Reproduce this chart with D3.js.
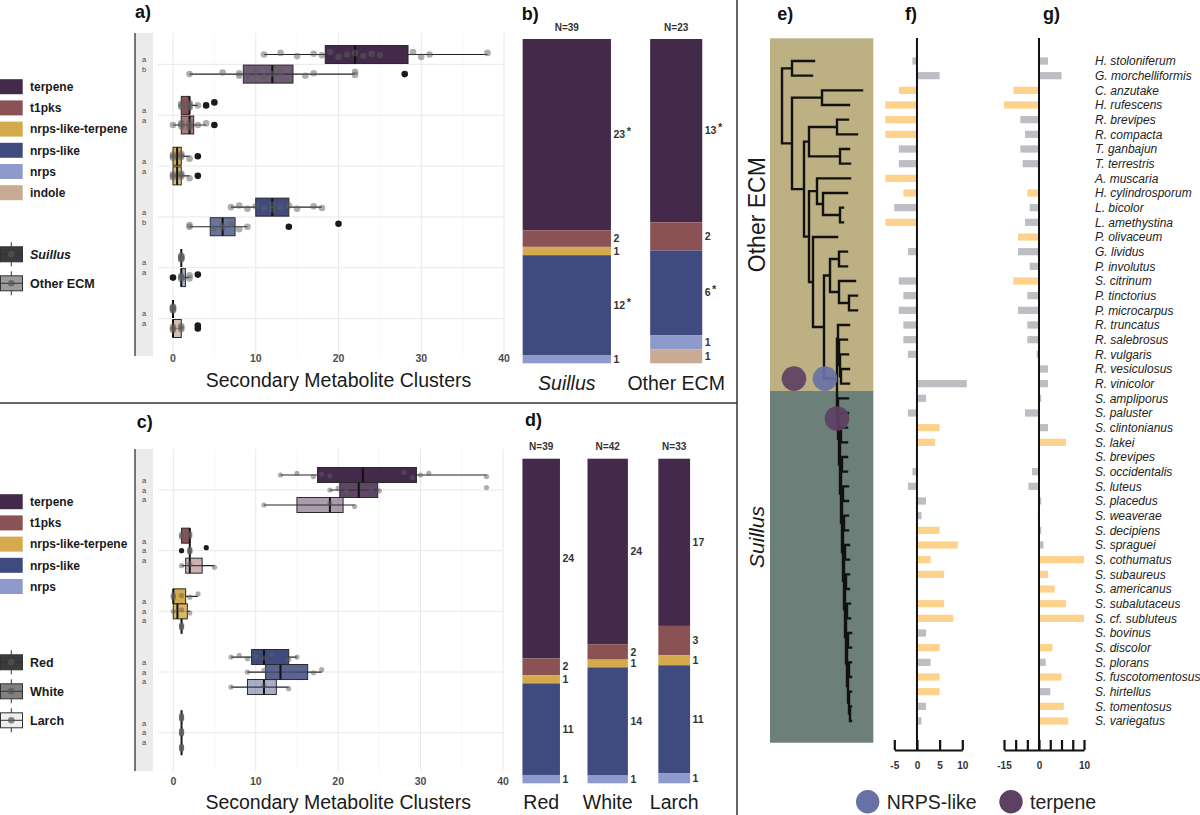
<!DOCTYPE html>
<html>
<head>
<meta charset="utf-8">
<script src="https://cdn.jsdelivr.net/npm/d3@7"></script>
<style>
  body { margin: 0; background: #fff; }
  svg { display: block; font-family: "Liberation Sans", Arial, sans-serif; }
</style>
</head>
<body>
<svg id="fig" width="1200" height="815"></svg>
<script>
// ---------- cluster types ----------
const clusterTypes = ['terpene', 't1pks', 'nrps-like-terpene', 'nrps-like', 'nrps', 'indole'];
const clusterColors = ['#43294a', '#8b5256', '#d4aa4d', '#3f4b7e', '#8e9acb', '#c9aa95'];
const xTicks = [0, 10, 20, 30, 40];

// ---------- panel a: box stats [lo, q1, median, q3, hi] per type ----------
const boxSuillus = [[11, 18.4, 22, 28.4, 38], [1, 1, 2, 2, 3], [0, 0, 0.5, 1, 2], [7, 10, 12, 14, 18], [1, 1, 1, 1, 1], [0, 0, 0, 0, 0]];
const ptsSuillus = [[11, 13, 15, 17, 18, 19, 20, 21, 22, 23, 24, 25, 29, 30, 31, 38], [1, 1, 1, 2, 2, 2, 2, 3], [0, 0, 0, 1, 1, 1, 2], [7, 8, 9, 10, 11, 12, 12, 13, 14, 15, 17, 18], [1, 1, 1, 1, 1, 1], [0, 0, 0, 0, 0, 0]];
const outSuillus = [[], [4, 5], [3], [], [], []];
const boxOtherECM = [[2, 8.5, 12, 14.5, 22], [0, 1, 2, 2.5, 4], [0, 0, 0.5, 1, 2], [2, 4.5, 6, 7.5, 9], [1, 1, 1, 1.5, 2], [0, 0, 0, 1, 1]];
const ptsOtherECM = [[2, 6, 8, 8, 9, 10, 11, 12, 13, 16, 17, 22, 22], [0, 1, 1, 1, 2, 2, 2, 3, 4], [0, 0, 0, 1, 1, 1, 2], [2, 2, 5, 6, 6, 7, 8, 9], [1, 1, 1, 1, 2, 2], [0, 0, 0, 1, 1, 1]];
const outOtherECM = [[28], [5], [3], [14, 20], [0, 3], [3, 3]];
const lettersA = [['a', 'b'], ['a', 'a'], ['a', 'a'], ['a', 'b'], ['a', 'a'], ['a', 'a']];

// ---------- panel c ----------
const typesC = clusterTypes.slice(0, 5);
const boxRed = [[13, 17.5, 23, 29.5, 38], [1, 1, 2, 2, 2], [0, 0, 0, 1.5, 3], [7, 9.5, 11, 14, 15], [1, 1, 1, 1, 1]];
const ptsRed = [[13, 15, 17, 18, 19, 28, 29, 30, 31, 38], [1, 1, 1, 2, 2, 2], [0, 0, 0, 1, 2, 3], [7, 8, 9, 10, 11, 12, 14, 15], [1, 1, 1, 1, 1, 1]];
const outRed = [[], [], [], [], []];
const boxWhite = [[19, 20.2, 22.5, 24.8, 25], [2, 2, 2, 2, 2], [0, 0, 0.5, 1.7, 2], [9, 11.2, 13, 16.3, 18], [1, 1, 1, 1, 1]];
const ptsWhite = [[19, 20, 21, 24, 25, 38], [2, 2, 2, 2, 2], [0, 1, 2], [9, 11, 12, 14, 17, 18], [1, 1, 1, 1, 1, 1]];
const outWhite = [[], [1, 4], [], [], []];
const boxLarch = [[11, 15, 19, 20.6, 22], [1, 1.5, 2, 3.5, 5], [1, 1, 1, 1, 1], [7, 9, 11, 12.5, 14], [1, 1, 1, 1, 1]];
const ptsLarch = [[11, 19, 22], [1, 2, 5], [1, 1, 1, 1, 1], [7, 11, 14], [1, 1, 1, 1, 1]];
const outLarch = [[], [], [], [], []];
const lettersC = [['a', 'a', 'a'], ['a', 'a', 'a'], ['a', 'a', 'a'], ['a', 'a', 'a'], ['a', 'a', 'a']];

// ---------- panels b and d: cluster counts per group ----------
const groupsB = ['Suillus', 'Other ECM'];
const countsSuillus = [23, 2, 1, 12, 1, 0];
const countsOtherECMb = [13, 2, 0, 6, 1, 1];
const starsB = [['terpene', 'nrps-like'], ['terpene', 'nrps-like']];
const groupsD = ['Red', 'White', 'Larch'];
const countsRed = [24, 2, 1, 11, 1];
const countsWhite = [24, 2, 1, 14, 1];
const countsLarch = [17, 3, 1, 11, 1];

// ---------- panels e, f, g ----------
const species = ['H. stoloniferum', 'G. morchelliformis', 'C. anzutake', 'H. rufescens', 'R. brevipes', 'R. compacta',
  'T. ganbajun', 'T. terrestris', 'A. muscaria', 'H. cylindrosporum', 'L. bicolor', 'L. amethystina', 'P. olivaceum',
  'G. lividus', 'P. involutus', 'S. citrinum', 'P. tinctorius', 'P. microcarpus', 'R. truncatus', 'R. salebrosus',
  'R. vulgaris', 'R. vesiculosus', 'R. vinicolor', 'S. ampliporus', 'S. paluster', 'S. clintonianus', 'S. lakei',
  'S. brevipes', 'S. occidentalis', 'S. luteus', 'S. placedus', 'S. weaverae', 'S. decipiens', 'S. spraguei',
  'S. cothumatus', 'S. subaureus', 'S. americanus', 'S. subalutaceus', 'S. cf. subluteus', 'S. bovinus', 'S. discolor',
  'S. plorans', 'S. fuscotomentosus', 'S. hirtellus', 'S. tomentosus', 'S. variegatus'];
const nrpsDiff = [-1, 5, -4, -7, -7, -7, -4, -4, -7, -3, -5, -7, 0, -2, 0, -4, -3, -4, -3, -3, -2, 0,
  11, 2, -2, 5, 4, 0, -1, -2, 2, 1, 5, 9, 3, 6, 0, 6, 8, 2, 5, 3, 5, 5, 2, 1];
const nrpsSig = [0, 0, 1, 1, 1, 1, 0, 0, 1, 1, 0, 1, 0, 0, 0, 0, 0, 0, 0, 0, 0, 0,
  0, 0, 0, 1, 1, 0, 0, 0, 0, 0, 1, 1, 1, 1, 0, 1, 1, 0, 1, 0, 1, 1, 0, 0];
const terpDiff = [2, 5, -11, -15, -8, -6, -8, -7, 0, -5, -4, -6, -9, -9, -4, -11, -5, -9, -5, -5, -1, 2,
  2, 0.5, -6, 2, 6, -0.5, -3, -4.5, 0.5, -0.5, 0.5, 1, 10, 2, 3.5, 6, 10, 0, 3, 1.5, 5, 2.5, 5.5, 6.5];
const terpSig = [0, 0, 1, 1, 0, 0, 0, 0, 0, 1, 0, 0, 1, 0, 0, 1, 0, 0, 0, 0, 0, 0,
  0, 0, 0, 0, 1, 0, 0, 0, 0, 0, 0, 0, 1, 1, 1, 1, 1, 0, 1, 0, 1, 0, 1, 1];
const fTicks = [-5, 0, 5, 10];
const gTicks = [-15, -10, -5, 0, 2.5, 5, 7.5, 10];
const gTickLabels = ['-15', '', '', '0', '', '', '', '10'];

// tree (branch lengths)
const rhizopogonNewick = '(R. truncatus:11,(R. salebrosus:8,(R. vulgaris:8,(R. vesiculosus:8,R. vinicolor:8):1):1):1)Rhizopogon:1';
const suillusNewick = '(S. ampliporus:10,(S. paluster:9,((S. clintonianus:6,S. lakei:6):1,((S. brevipes:5,S. occidentalis:5):1,' +
  '((S. luteus:5,S. placedus:5):1,((S. weaverae:4,S. decipiens:4):1,((S. spraguei:4,S. cothumatus:4):1,' +
  '((S. subaureus:3,S. americanus:3):1,((S. subalutaceus:3,S. cf. subluteus:3):1,((S. bovinus:3,S. discolor:3):1,' +
  '((S. plorans:2,S. fuscotomentosus:2):1,(S. hirtellus:2,(S. tomentosus:1,S. variegatus:1' +
  '):1):1):1):1):1):1):1):1):1):1):1):1)Suillus:1';
const treeNewick = '((H. stoloniferum:22,G. morchelliformis:20):10,((C. anzutake:40,H. rufescens:27):30,' +
  '(((R. brevipes:11,R. compacta:20):28,(T. ganbajun:9,T. terrestris:10):31):5,' +
  '((A. muscaria:33,(H. cylindrosporum:24,(L. bicolor:3,L. amethystina:3):17):6):8,' +
  '(P. olivaceum:24,(((G. lividus:8,P. involutus:8):9,(S. citrinum:16,(P. tinctorius:8,P. microcarpus:8):10):9):6,' +
  '(' + rhizopogonNewick + ',' + suillusNewick + ')Suillaceae:13):11):4):5):12):10);';
const gainNodes = ['Suillaceae', 'Suillaceae', 'Suillus'];
const gainDepth = [12, 43, 55];
const gainType = ['terpene', 'NRPS-like', 'terpene'];
const gainColors = { 'NRPS-like': '#6771a5', 'terpene': '#5d4063' };

// ---------------------------------------------------------------
const fig = d3.select('#fig');
const colorOf = d3.scaleOrdinal().domain(clusterTypes).range(clusterColors);

function panelLabel(txt, x, y) {
  fig.append('text').attr('x', x).attr('y', y).attr('font-size', 18).attr('font-weight', 'bold')
    .attr('fill', '#111').text(txt);
}

function drawBoxPanel(opt) {
  const g = fig.append('g');
  const x = d3.scaleLinear().domain([0, 40]).range(opt.xRange);
  const y = d3.scalePoint().domain(opt.types).range(opt.yRange);
  const n = opt.groups.length;

  // strip + left rule
  g.append('rect').attr('x', 135).attr('y', opt.top).attr('width', 18).attr('height', opt.bottom - opt.top).attr('fill', '#ebebeb');
  g.append('line').attr('x1', 135).attr('x2', 135).attr('y1', opt.top).attr('y2', opt.bottom).attr('stroke', '#333').attr('stroke-width', 1.3);

  // grid
  g.selectAll('.vg').data(d3.range(0, 41, 5)).join('line')
    .attr('x1', d => x(d)).attr('x2', d => x(d)).attr('y1', opt.top).attr('y2', opt.bottom)
    .attr('stroke', d => d % 10 ? '#f2f2f2' : '#e8e8e8').attr('stroke-width', d => d % 10 ? 0.7 : 1);
  g.selectAll('.hg').data(opt.types).join('line')
    .attr('x1', 158).attr('x2', x(40)).attr('y1', d => y(d)).attr('y2', d => y(d))
    .attr('stroke', '#e8e8e8');

  // strip letters
  opt.types.forEach((t, i) => {
    opt.letters[i].forEach((l, k) => {
      g.append('text').attr('x', 144).attr('y', y(t) + (k - (opt.letters[i].length - 1) / 2) * opt.letterGap)
        .attr('dy', '0.35em').attr('text-anchor', 'middle').attr('font-size', 7.5).attr('fill', '#444').text(l);
    });
  });

  const jit = [0, -2, 2, -1, 1, -3, 3];
  opt.types.forEach((t, i) => {
    opt.groups.forEach((grp, j) => {
      const yc = y(t) + (j - (n - 1) / 2) * opt.dodge;
      const [lo, q1, med, q3, hi] = grp.box[i];
      const h = opt.boxH;
      g.append('line').attr('x1', x(lo)).attr('x2', x(hi)).attr('y1', yc).attr('y2', yc)
        .attr('stroke', '#222').attr('stroke-width', 1.2);
      g.append('rect').attr('x', x(q1)).attr('y', yc - h / 2).attr('width', x(q3) - x(q1)).attr('height', h)
        .attr('fill', colorOf(t)).attr('fill-opacity', grp.alpha).attr('stroke', '#2a2a2a').attr('stroke-width', 1);
      g.append('line').attr('x1', x(med)).attr('x2', x(med)).attr('y1', yc - h / 2).attr('y2', yc + h / 2)
        .attr('stroke', '#111').attr('stroke-width', 2);
      g.selectAll(null).data(grp.pts[i]).join('circle')
        .attr('cx', d => x(d)).attr('cy', (d, k) => yc + jit[k % 7] * 0.8).attr('r', opt.r)
        .attr('fill', '#5e5e5e').attr('fill-opacity', 0.5);
      g.selectAll(null).data(grp.out[i]).join('circle')
        .attr('cx', d => x(d)).attr('cy', (d, k) => yc + jit[k % 7] * 1.5).attr('r', opt.r)
        .attr('fill', '#1a1a1a');
    });
  });

  // x tick labels + title
  g.selectAll('.tl').data(xTicks).join('text')
    .attr('x', d => x(d)).attr('y', opt.tickY).attr('dy', '0.35em').attr('text-anchor', 'middle')
    .attr('font-size', 10.5).attr('font-weight', 'bold').attr('fill', '#4d4d4d').text(d => d);
  g.append('text').attr('x', (x(0) + x(40)) / 2).attr('y', opt.titleY).attr('dy', '0.35em')
    .attr('text-anchor', 'middle').attr('font-size', 19.5).attr('fill', '#1a1a1a').text('Secondary Metabolite Clusters');
}

function drawTypeLegend(types, y0) {
  const g = fig.append('g');
  types.forEach((t, i) => {
    const yc = y0 + i * 21.2;
    g.append('rect').attr('x', 0).attr('y', yc - 7.5).attr('width', 22.7).attr('height', 15).attr('fill', colorOf(t));
    g.append('text').attr('x', 30).attr('y', yc).attr('dy', '0.35em').attr('font-size', 12)
      .attr('font-weight', 'bold').attr('fill', '#1a1a1a').text(t);
  });
}

function drawGroupLegend(names, fills, y0, italicFirst) {
  const g = fig.append('g');
  names.forEach((nm, i) => {
    const yc = y0 + i * 29;
    g.append('line').attr('x1', 11.3).attr('x2', 11.3).attr('y1', yc - 12).attr('y2', yc + 12).attr('stroke', '#333');
    g.append('rect').attr('x', 0.5).attr('y', yc - 7.5).attr('width', 22).attr('height', 15)
      .attr('fill', fills[i]).attr('stroke', '#333');
    g.append('line').attr('x1', 0.5).attr('x2', 22.5).attr('y1', yc).attr('y2', yc).attr('stroke', '#333');
    g.append('circle').attr('cx', 11.3).attr('cy', yc).attr('r', 3.3).attr('fill', '#555').attr('fill-opacity', 0.7);
    g.append('text').attr('x', 30).attr('y', yc).attr('dy', '0.35em').attr('font-size', 12.5)
      .attr('font-weight', 'bold').attr('font-style', italicFirst && i === 0 ? 'italic' : 'normal')
      .attr('fill', '#1a1a1a').text(nm);
  });
}

function drawStackPanel(opt) {
  const g = fig.append('g');
  const cx = d3.scalePoint().domain(opt.groups).range(opt.cxRange);
  const w = d3.scaleLinear().domain([0, opt.wDomain]).range([0, opt.wMax]);
  const y = d3.scaleLinear().domain([0, 1]).range([opt.bottom, opt.top]);
  opt.groups.forEach((grp, j) => {
    const counts = opt.counts[j];
    const N = d3.sum(counts);
    const bw = w(N);
    const x0 = cx(grp) - bw / 2;
    let acc = 0;
    counts.forEach((c, i) => {
      const yTop = y(1 - acc / N), yBot = y(1 - (acc + c) / N);
      acc += c;
      if (!c) return;
      g.append('rect').attr('x', x0).attr('y', yTop).attr('width', bw).attr('height', yBot - yTop)
        .attr('fill', clusterColors[i]);
      const t = g.append('text').attr('x', x0 + bw + 2.5).attr('y', (yTop + yBot) / 2).attr('dy', '0.35em')
        .attr('font-size', 10.5).attr('font-weight', 'bold').attr('fill', '#333').text(c);
      if (opt.stars && opt.stars[j].includes(clusterTypes[i])) {
        t.append('tspan').attr('dy', -3).attr('dx', 1.5).attr('font-size', 11).text('*');
      }
    });
    g.append('text').attr('x', cx(grp)).attr('y', opt.top - 12).attr('dy', '0.35em').attr('text-anchor', 'middle')
      .attr('font-size', 10).attr('font-weight', 'bold').attr('fill', '#333').text('N=' + N);
    g.append('text').attr('x', cx(grp)).attr('y', opt.labelY).attr('dy', '0.35em').attr('text-anchor', 'middle')
      .attr('font-size', 19.5).attr('font-style', grp === 'Suillus' ? 'italic' : 'normal')
      .attr('fill', '#1a1a1a').text(grp);
  });
}

// ---------- panel a ----------
drawBoxPanel({
  types: clusterTypes, xRange: [173, 504], yRange: [64.3, 318.7], top: 33, bottom: 356,
  dodge: 19.6, boxH: 18, r: 3.3, letters: lettersA, letterGap: 10, tickY: 358, titleY: 380,
  groups: [
    { box: boxSuillus, pts: ptsSuillus, out: outSuillus, alpha: 1 },
    { box: boxOtherECM, pts: ptsOtherECM, out: outOtherECM, alpha: 0.77 }
  ]
});
drawTypeLegend(clusterTypes, 86.7);
drawGroupLegend(['Suillus', 'Other ECM'], ['#3a3a3a', '#9b9b9b'], 254.3, true);

// ---------- panel c ----------
drawBoxPanel({
  types: typesC, xRange: [173.3, 503], yRange: [490, 732.7], top: 449, bottom: 771,
  dodge: 15, boxH: 15, r: 2.6, letters: lettersC, letterGap: 9.5, tickY: 781.7, titleY: 801.7,
  groups: [
    { box: boxRed, pts: ptsRed, out: outRed, alpha: 1 },
    { box: boxWhite, pts: ptsWhite, out: outWhite, alpha: 0.86 },
    { box: boxLarch, pts: ptsLarch, out: outLarch, alpha: 0.45 }
  ]
});
drawTypeLegend(typesC, 501.7);
drawGroupLegend(['Red', 'White', 'Larch'], ['#3b3b3b', '#808080', '#eeeeee'], 662.3, false);

// ---------- panels b, d ----------
drawStackPanel({
  groups: groupsB, counts: [countsSuillus, countsOtherECMb], stars: starsB,
  cxRange: [566.8, 676.2], wDomain: 39, wMax: 88.3, top: 39, bottom: 363.3, labelY: 383
});
drawStackPanel({
  groups: groupsD, counts: [countsRed, countsWhite, countsLarch],
  cxRange: [541.2, 674.2], wDomain: 42, wMax: 40.4, top: 458.7, bottom: 783.3, labelY: 801.7
});

// ---------- panel e: tree ----------
function parseNewick(s) {
  let i = 0;
  function node() {
    const n = {};
    if (s[i] === '(') {
      n.children = [];
      i++;
      n.children.push(node());
      while (s[i] === ',') { i++; n.children.push(node()); }
      i++;
    }
    let name = '';
    while (i < s.length && !':,();'.includes(s[i])) name += s[i++];
    n.name = name.trim();
    if (s[i] === ':') {
      i++;
      let num = '';
      while (i < s.length && !',();'.includes(s[i])) num += s[i++];
      n.length = +num;
    }
    return n;
  }
  return node();
}

const rowY = d3.scalePoint().domain(species).range([61, 721]);
const treeX = d3.scaleLinear().domain([0, 80]).range([782, 862]);
const tree = d3.hierarchy(parseNewick(treeNewick));
tree.eachBefore(d => { d.len = d.parent ? d.parent.len + (d.data.length || 0) : 0; });
tree.leaves().forEach(l => { l.y = rowY(l.data.name); });
tree.eachAfter(d => { if (d.children) d.y = (d.children[0].y + d.children[d.children.length - 1].y) / 2; });

const suillusNode = tree.descendants().find(d => d.data.name === 'Suillus');
const firstSuillus = d3.min(suillusNode.leaves(), l => l.y);
const lastOther = d3.max(tree.leaves().filter(l => l.y < firstSuillus), l => l.y);
const split = (firstSuillus + lastOther) / 2;
const boxTop = rowY(species[0]) - 22.7, boxBot = rowY(species[species.length - 1]) + 21.7;

const eg = fig.append('g');
eg.append('rect').attr('x', 770).attr('y', boxTop).attr('width', 103.3).attr('height', split - boxTop).attr('fill', '#bdb083');
eg.append('rect').attr('x', 770).attr('y', split).attr('width', 103.3).attr('height', boxBot - split).attr('fill', '#6c7f78');
eg.append('text').attr('transform', `translate(756.7,${(boxTop + split) / 2}) rotate(-90)`).attr('dy', '0.35em')
  .attr('text-anchor', 'middle').attr('font-size', 23).attr('fill', '#1a1a1a').text('Other ECM');
eg.append('text').attr('transform', `translate(756.7,537) rotate(-90)`).attr('dy', '0.35em')
  .attr('text-anchor', 'middle').attr('font-size', 21).attr('font-style', 'italic').attr('fill', '#1a1a1a').text('Suillus');

let treePath = '';
tree.descendants().forEach(d => {
  if (d.children) {
    const c = d.children;
    treePath += `M${treeX(d.len)},${c[0].y}V${c[c.length - 1].y}`;
  }
  if (d.parent) treePath += `M${treeX(d.parent.len)},${d.y}H${treeX(d.len)}`;
});
eg.append('path').attr('d', treePath).attr('fill', 'none').attr('stroke', '#111')
  .attr('stroke-width', 2.4).attr('stroke-linecap', 'square');

gainNodes.forEach((nm, i) => {
  const nd = tree.descendants().find(d => d.data.name === nm);
  eg.append('circle').attr('cx', treeX(gainDepth[i])).attr('cy', nd.y).attr('r', 12.3)
    .attr('fill', gainColors[gainType[i]]).attr('fill-opacity', 0.92);
});

// ---------- panels f, g ----------
const fX = d3.scaleLinear().domain([-5, 10]).range([894.3, 962.3]);
const gX = d3.scaleLinear().domain([-15, 0, 10]).range([1004, 1039, 1084]);
const barOrange = '#fdd28c', barGray = '#bdbdc3';

function drawDiffBars(x, vals, sig, ticks, tickFmt) {
  const g = fig.append('g');
  g.selectAll('rect').data(species).join('rect')
    .attr('x', (d, i) => x(Math.min(0, vals[i]))).attr('y', d => rowY(d) - 3.6)
    .attr('width', (d, i) => Math.abs(x(vals[i]) - x(0))).attr('height', 7.2)
    .attr('fill', (d, i) => sig[i] ? barOrange : barGray);
  g.append('line').attr('x1', x(0)).attr('x2', x(0)).attr('y1', 38).attr('y2', 750)
    .attr('stroke', '#111').attr('stroke-width', 2);
  const ax = g.append('g').attr('transform', 'translate(0,750)')
    .call(d3.axisBottom(x).tickValues(ticks).tickSizeInner(-10).tickSizeOuter(0).tickPadding(12).tickFormat(tickFmt));
  ax.select('.domain').attr('stroke', '#111').attr('stroke-width', 2.2);
  ax.selectAll('.tick line').attr('stroke', '#111').attr('stroke-width', 2.2);
  ax.selectAll('.tick text').attr('font-size', 10).attr('font-weight', 'bold').attr('fill', '#333')
    .attr('font-family', '"Liberation Sans", Arial, sans-serif');
}
drawDiffBars(fX, nrpsDiff, nrpsSig, fTicks, d => d);
drawDiffBars(gX, terpDiff, terpSig, gTicks, (d, i) => gTickLabels[i]);

fig.append('g').selectAll('text').data(species).join('text')
  .attr('x', 1095).attr('y', d => rowY(d)).attr('dy', '0.35em')
  .attr('font-size', 12).attr('font-style', 'italic').attr('fill', '#222').text(d => d);

// bottom legend
const legendTypes = ['NRPS-like', 'terpene'];
const legendX = d3.scalePoint().domain(legendTypes).range([867.7, 1011]);
legendTypes.forEach(t => {
  fig.append('circle').attr('cx', legendX(t)).attr('cy', 801.7).attr('r', 11.7).attr('fill', gainColors[t]);
  fig.append('text').attr('x', legendX(t) + 19).attr('y', 801.7).attr('dy', '0.35em')
    .attr('font-size', 19.5).attr('fill', '#222').text(t);
});

// ---------- dividers & panel letters ----------
fig.append('line').attr('x1', 0).attr('x2', 737).attr('y1', 403).attr('y2', 403).attr('stroke', '#333').attr('stroke-width', 1.5);
fig.append('line').attr('x1', 737).attr('x2', 737).attr('y1', 0).attr('y2', 815).attr('stroke', '#333').attr('stroke-width', 1.5);
panelLabel('a)', 135, 18);
panelLabel('b)', 521.7, 20);
panelLabel('c)', 136.7, 428);
panelLabel('d)', 525, 426);
panelLabel('e)', 777.3, 20);
panelLabel('f)', 905, 20);
panelLabel('g)', 1043, 20);
</script>
</body>
</html>
